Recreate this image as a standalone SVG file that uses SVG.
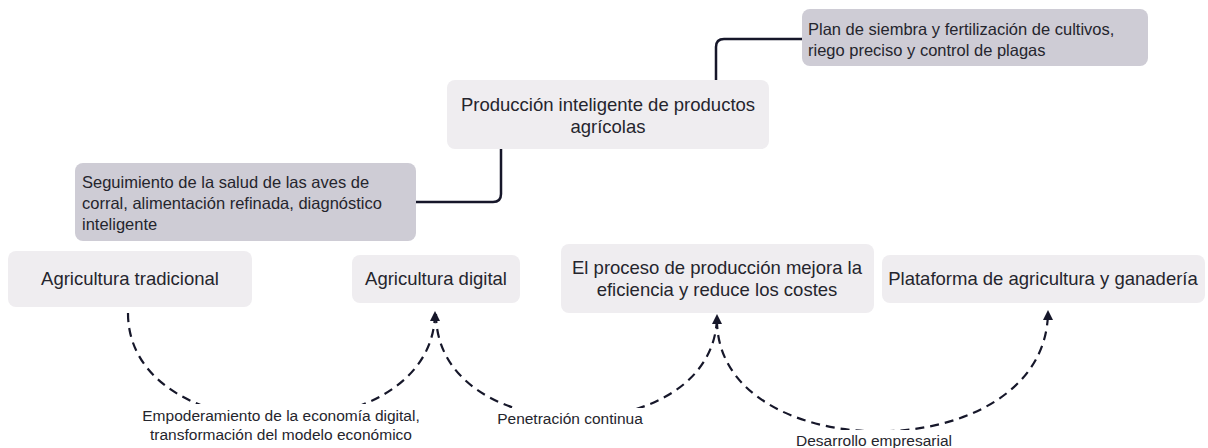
<svg xmlns="http://www.w3.org/2000/svg" width="1208" height="448" viewBox="0 0 1208 448">
<defs>
<style>
.main{fill:#EFEDF0}
.sub{fill:#CECCD5}
.t{font-family:"Liberation Sans",Arial,sans-serif;font-size:18.5px;fill:#25252d}
.ts{font-family:"Liberation Sans",Arial,sans-serif;font-size:16.5px;fill:#25252d}
.lbl{font-family:"Liberation Sans",Arial,sans-serif;font-size:15.5px;fill:#25252d}
.solid{fill:none;stroke:#16172a;stroke-width:2.5}
.dash{fill:none;stroke:#16172a;stroke-width:2.2;stroke-dasharray:9 6}
</style>
<marker id="ah" viewBox="0 0 10 10" refX="9" refY="5" markerWidth="10" markerHeight="10" markerUnits="userSpaceOnUse" orient="auto">
<path d="M0,0 L10,5 L0,10 z" fill="#16172a"/>
</marker>
</defs>
<rect width="1208" height="448" fill="#ffffff"/>
<g id="connectors">
<path class="solid" d="M716,80 V47 Q716,39 724,39 H802"/>
<path class="solid" d="M501,149 V194 Q501,202 493,202 H416"/>
<path class="dash" d="M128,313 C128,455 435,455 435,312" marker-end="url(#ah)"/>
<path class="dash" d="M436,314 C436,452 717,452 717,315" marker-end="url(#ah)"/>
<path class="dash" d="M717,320 C717,470 1048,470 1048,311" marker-end="url(#ah)"/>
</g>
<g id="labels">
<rect x="138" y="404" width="290" height="44" fill="#ffffff"/>
<text class="lbl" x="281" y="421" text-anchor="middle">Empoderamiento de la economía digital,</text>
<text class="lbl" x="281" y="440" text-anchor="middle">transformación del modelo económico</text>
<rect x="490" y="408" width="162" height="22" fill="#ffffff"/>
<text class="lbl" x="570" y="424" text-anchor="middle">Penetración continua</text>
<rect x="798" y="430" width="154" height="18" fill="#ffffff"/>
<text class="lbl" x="874" y="446" text-anchor="middle">Desarrollo empresarial</text>
</g>
<g id="n-plan">
<rect class="sub" x="802" y="9" width="346" height="57" rx="8"/>
<text class="ts" x="808" y="35">Plan de siembra y fertilización de cultivos,</text>
<text class="ts" x="808" y="56">riego preciso y control de plagas</text>
</g>
<g id="n-produccion">
<rect class="main" x="447" y="80" width="322" height="69" rx="8"/>
<text class="t" x="608" y="111" text-anchor="middle">Producción inteligente de productos</text>
<text class="t" x="608" y="133" text-anchor="middle">agrícolas</text>
</g>
<g id="n-seguimiento">
<rect class="sub" x="75" y="163" width="341" height="78" rx="8"/>
<text class="ts" x="82" y="188">Seguimiento de la salud de las aves de</text>
<text class="ts" x="82" y="209">corral, alimentación refinada, diagnóstico</text>
<text class="ts" x="82" y="230">inteligente</text>
</g>
<g id="n-tradicional">
<rect class="main" x="8" y="251" width="244" height="56" rx="8"/>
<text class="t" x="130" y="285" text-anchor="middle">Agricultura tradicional</text>
</g>
<g id="n-digital">
<rect class="main" x="352" y="255" width="168" height="48" rx="8"/>
<text class="t" x="436" y="285" text-anchor="middle">Agricultura digital</text>
</g>
<g id="n-proceso">
<rect class="main" x="561" y="244" width="313" height="69" rx="8"/>
<text class="t" x="717" y="274" text-anchor="middle">El proceso de producción mejora la</text>
<text class="t" x="717" y="296" text-anchor="middle">eficiencia y reduce los costes</text>
</g>
<g id="n-plataforma">
<rect class="main" x="882" y="255" width="323" height="48" rx="8"/>
<text class="t" x="1043" y="285" text-anchor="middle">Plataforma de agricultura y ganadería</text>
</g>
</svg>
